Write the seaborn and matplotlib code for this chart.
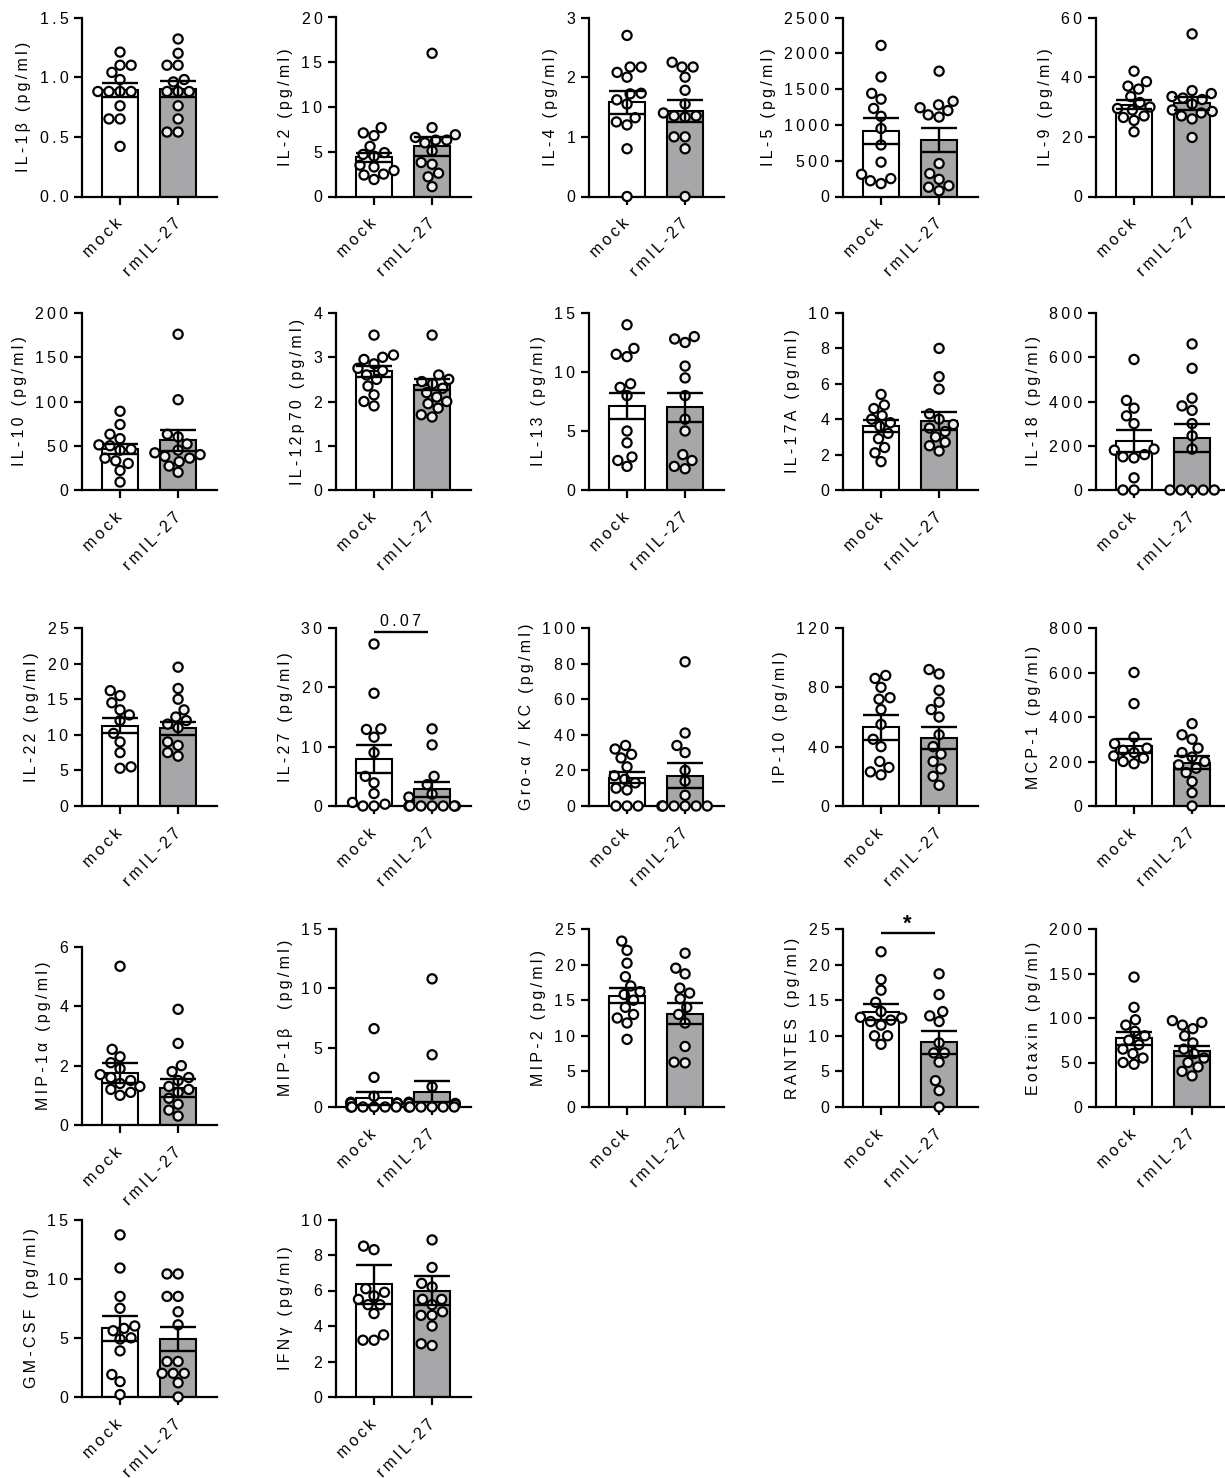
import numpy as np
import pandas as pd
import matplotlib
matplotlib.use("Agg")
import matplotlib.pyplot as plt
import seaborn as sns
from matplotlib.collections import PathCollection

# ---------------------------------------------------------------- data
GROUPS = ["mock", "rmIL-27"]

ANALYTES = ["IL-1β", "IL-2", "IL-4", "IL-5", "IL-9",
            "IL-10", "IL-12p70", "IL-13", "IL-17A", "IL-18",
            "IL-22", "IL-27", "Gro-α / KC", "IP-10", "MCP-1",
            "MIP-1α", "MIP-1β ", "MIP-2", "RANTES", "Eotaxin",
            "GM-CSF", "IFNγ"]

Y_TICKS = [[0, 0.5, 1.0, 1.5], [0, 5, 10, 15, 20], [0, 1, 2, 3],
           [0, 500, 1000, 1500, 2000, 2500], [0, 20, 40, 60],
           [0, 50, 100, 150, 200], [0, 1, 2, 3, 4], [0, 5, 10, 15],
           [0, 2, 4, 6, 8, 10], [0, 200, 400, 600, 800],
           [0, 5, 10, 15, 20, 25], [0, 10, 20, 30], [0, 20, 40, 60, 80, 100],
           [0, 40, 80, 120], [0, 200, 400, 600, 800],
           [0, 2, 4, 6], [0, 5, 10, 15], [0, 5, 10, 15, 20, 25],
           [0, 5, 10, 15, 20, 25], [0, 50, 100, 150, 200],
           [0, 5, 10, 15], [0, 2, 4, 6, 8, 10]]

MOCK_MEAN = [0.89, 4.4, 1.58, 915, 30.8, 46.5, 2.68, 7.1, 3.6, 220, 11.3, 7.9,
             16, 53, 270, 1.75, 0.75, 15.6, 13.3, 77, 5.8, 6.35]
MOCK_SEM = [0.06, 0.5, 0.19, 175, 1.4, 6.0, 0.12, 1.1, 0.35, 50, 1.1, 2.4,
            3.3, 8.5, 33, 0.33, 0.55, 1.05, 1.1, 7, 1.05, 1.1]
RM_MEAN = [0.90, 5.6, 1.43, 790, 31.2, 56, 2.38, 7.0, 3.9, 235, 10.9, 2.8,
           17, 46, 195, 1.25, 1.3, 13.1, 9.1, 63, 4.9, 6.0]
RM_SEM = [0.065, 1.05, 0.18, 168, 2.2, 12, 0.13, 1.2, 0.5, 65, 0.95, 1.3,
          7, 7.5, 30, 0.3, 0.85, 1.45, 1.6, 5.5, 1.0, 0.8]

MOCK_POINTS = [
    [1.21, 1.10, 1.10, 1.04, 0.98, 0.88, 0.88, 0.88, 0.88, 0.76, 0.65, 0.65, 0.42],
    [7.7, 7.1, 6.8, 5.6, 4.9, 4.7, 4.5, 3.5, 3.3, 2.9, 2.5, 2.4, 1.9],
    [2.70, 2.17, 2.17, 2.08, 2.00, 1.73, 1.72, 1.62, 1.55, 1.32, 1.25, 1.20, 0.80, 0.0],
    [2110, 1670, 1440, 1360, 1230, 1120, 950, 720, 480, 310, 250, 220, 180],
    [42, 38.5, 37, 36, 33.5, 31.5, 30, 29.5, 29, 27, 26.5, 25.5, 21.7],
    [89, 74, 63, 58, 51, 50, 46, 45, 36, 33, 30, 22, 9],
    [3.5, 3.05, 3.0, 2.95, 2.85, 2.75, 2.7, 2.6, 2.5, 2.35, 2.15, 2.0, 1.9],
    [14.0, 12.0, 11.5, 11.3, 9.0, 8.7, 8.0, 5.0, 4.0, 2.8, 2.5, 2.0],
    [5.4, 4.8, 4.6, 4.2, 4.0, 3.8, 3.6, 3.2, 2.9, 2.4, 2.1, 1.6],
    [590, 405, 370, 335, 300, 185, 180, 160, 150, 145, 55, 0, 0],
    [16.2, 15.5, 14.5, 13.5, 12.8, 12.0, 10.2, 9.0, 7.5, 5.5, 5.3],
    [27.3, 19.0, 13.0, 12.9, 11.6, 9.0, 5.0, 3.9, 2.1, 0.6, 0.3, 0, 0],
    [34, 32, 29, 27, 22, 17, 15, 13, 10, 9, 0, 0, 0],
    [88, 86, 80, 73, 72, 65, 55, 45, 40, 30, 26, 23, 21],
    [600, 460, 310, 280, 260, 250, 240, 225, 215, 200, 190],
    [5.35, 2.55, 2.3, 2.1, 1.9, 1.7, 1.6, 1.5, 1.4, 1.3, 1.2, 1.1, 1.0],
    [6.6, 2.5, 0.9, 0.4, 0.35, 0.3, 0.3, 0, 0, 0, 0, 0, 0],
    [23.3, 22.0, 20.2, 18.3, 17.0, 16.2, 15.8, 15.0, 14.0, 13.0, 12.5, 11.8, 9.5],
    [21.8, 17.9, 16.4, 14.7, 13.4, 12.6, 12.5, 12.2, 12.0, 11.5, 10.0, 10.0, 8.8],
    [146, 112, 98, 92, 85, 80, 75, 70, 65, 60, 55, 50, 48],
    [13.7, 10.9, 8.5, 7.5, 6.0, 5.8, 5.6, 5.0, 4.9, 3.9, 1.9, 1.3, 0.2],
    [8.5, 8.3, 6.1, 5.9, 5.7, 5.5, 5.2, 5.2, 4.7, 3.5, 3.2, 3.2],
]

RM_POINTS = [
    [1.32, 1.20, 1.10, 1.10, 0.98, 0.96, 0.88, 0.88, 0.88, 0.76, 0.65, 0.54, 0.54],
    [16.0, 7.7, 6.9, 6.6, 6.3, 6.3, 6.0, 5.1, 3.8, 3.6, 2.6, 2.2, 1.1],
    [2.25, 2.17, 2.17, 2.00, 1.78, 1.55, 1.40, 1.35, 1.35, 1.33, 1.00, 1.00, 0.80, 0.0],
    [1750, 1330, 1280, 1240, 1200, 1140, 1110, 460, 320, 240, 150, 130, 80],
    [54.5, 35.5, 34.5, 33.5, 33, 32.5, 31, 29, 28.5, 28, 27, 26, 19.8],
    [176, 102, 63, 60, 52, 45, 42, 40, 38, 36, 32, 27, 20],
    [3.5, 2.6, 2.5, 2.45, 2.4, 2.3, 2.2, 2.1, 2.0, 1.95, 1.85, 1.7, 1.65],
    [13.0, 12.8, 12.5, 10.5, 9.5, 8.0, 6.0, 5.0, 3.0, 2.5, 2.0, 1.8],
    [8.0, 6.4, 5.7, 4.3, 4.0, 3.7, 3.5, 3.3, 3.0, 2.7, 2.5, 2.2],
    [660, 550, 415, 380, 360, 300, 245, 185, 0, 0, 0, 0, 0],
    [19.5, 16.5, 15.0, 13.5, 12.5, 12.0, 11.5, 11.0, 9.0, 8.5, 7.5, 7.0],
    [13.0, 10.3, 5.0, 3.6, 2.0, 1.5, 0, 0, 0, 0, 0, 0, 0],
    [81, 41, 34, 30, 20, 14, 6, 0, 0, 0, 0, 0, 0],
    [92, 89, 78, 70, 65, 60, 48, 40, 35, 30, 25, 20, 14],
    [370, 320, 300, 260, 240, 220, 200, 185, 170, 150, 110, 60, 0],
    [3.9, 2.75, 2.0, 1.8, 1.6, 1.5, 1.3, 1.2, 1.1, 0.9, 0.7, 0.5, 0.3],
    [10.8, 4.4, 1.7, 0.4, 0.3, 0.3, 0.2, 0, 0, 0, 0, 0, 0],
    [21.6, 19.5, 18.7, 16.7, 16.0, 15.2, 14.0, 13.0, 11.8, 8.5, 6.3, 6.2],
    [18.7, 15.8, 13.4, 12.8, 12.0, 9.0, 7.6, 7.6, 6.3, 3.7, 2.3, 0],
    [97, 95, 92, 88, 80, 72, 65, 60, 55, 50, 45, 40, 35],
    [10.4, 10.4, 8.5, 8.5, 7.2, 6.1, 3.0, 3.0, 2.0, 2.0, 2.0, 1.2, 0.0],
    [8.85, 7.3, 6.4, 6.2, 5.5, 5.5, 5.2, 4.8, 4.6, 4.6, 4.0, 3.0, 2.9],
]

# significance annotations: analyte -> (label, height of bracket)
SIGNIF = {"IL-27": ("0.07", 29.3), "RANTES": ("*", 24.4)}

# ---------------------------------------------------------------- style
sns.set_theme(style="ticks")
plt.rcParams["font.family"] = ["Liberation Sans", "DejaVu Sans"]
plt.rcParams["axes.linewidth"] = 1.5

BAR_COLORS = {"mock": "#ffffff", "rmIL-27": "#a6a6aa"}
DOT_FILL = {"mock": "#ffffff", "rmIL-27": "#f0f0f0"}
FS = 11.5
THIN = "\u2009"
DOT_EDGE = 1.6       # marker outline (pt)
LAYOUT_DOT = 6.0     # marker size used to arrange the swarm (pt)
DRAW_DOT = 6.6       # marker size actually drawn (pt)


def tracked(text):
    """Wide letter spacing, as in the exported figure."""
    return THIN.join(text)


def fmt_tick(v, ticks):
    if all(float(t).is_integer() for t in ticks):
        return str(int(v))
    return f"{v:.1f}"


# ---------------------------------------------------------------- layout (pixels)
W, H = 1225, 1478
COL_LEFT = [82, 336, 589, 843, 1096]
ROW_TOP = [17.5, 313, 628, 929, 1219.5]
ROW_ZERO = [196.5, 490, 806, 1107, 1397]
AX_W = 135
SHIFT = {"MIP-1α": 18}

fig = plt.figure(figsize=(W / 100, H / 100), dpi=100)
fig.patch.set_facecolor("white")

axes = []
for i, name in enumerate(ANALYTES):
    r, c = divmod(i, 5)
    top = ROW_TOP[r] + SHIFT.get(name, 0)
    zero = ROW_ZERO[r] + SHIFT.get(name, 0)
    ax = fig.add_axes([COL_LEFT[c] / W, 1 - zero / H, AX_W / W, (zero - top) / H])
    ax.set_facecolor("white")
    axes.append(ax)

    ticks = Y_TICKS[i]
    bars = pd.DataFrame({"group": GROUPS,
                         "mean": [MOCK_MEAN[i], RM_MEAN[i]],
                         "sem": [MOCK_SEM[i], RM_SEM[i]]})
    sns.barplot(data=bars, x="group", y="mean", hue="group", order=GROUPS,
                hue_order=GROUPS, palette=BAR_COLORS, width=0.62,
                edgecolor="black", linewidth=1.5, errorbar=None,
                legend=False, ax=ax, zorder=1)

    m_pts, r_pts = MOCK_POINTS[i], RM_POINTS[i]
    pts = pd.DataFrame({"group": ["mock"] * len(m_pts) + ["rmIL-27"] * len(r_pts),
                        "value": m_pts + r_pts})
    sns.swarmplot(data=pts, x="group", y="value", hue="group", order=GROUPS,
                  hue_order=GROUPS, palette=DOT_FILL, size=LAYOUT_DOT,
                  linewidth=DOT_EDGE, edgecolor="black", legend=False,
                  warn_thresh=1.0, ax=ax, zorder=3, clip_on=False)

    ax.errorbar([0, 1], bars["mean"], yerr=bars["sem"], fmt="none",
                ecolor="black", elinewidth=1.7, capsize=13, capthick=1.7,
                zorder=4, clip_on=False)

    ax.set_xlim(-0.655, 1.67)
    ax.set_ylim(0, ticks[-1])
    sns.despine(ax=ax)
    for s in ("left", "bottom"):
        ax.spines[s].set_linewidth(1.6)
        ax.spines[s].set_color("black")
        ax.spines[s].set_zorder(2.5)

    ax.set_yticks(ticks)
    ax.set_yticklabels([tracked(fmt_tick(t, ticks)) for t in ticks])
    ax.set_xticks([0, 1])
    ax.set_xticklabels([tracked(g) for g in GROUPS], rotation=45, ha="right",
                       va="center", rotation_mode="anchor")
    ax.tick_params(axis="y", length=5.8, width=1.6, pad=4, labelsize=FS,
                   colors="black", labelcolor="black")
    ax.tick_params(axis="x", length=5.8, width=1.6, pad=12, labelsize=FS,
                   colors="black", labelcolor="black")
    ax.set_xlabel("")
    ax.set_ylabel(tracked(name) + THIN + " " + THIN + tracked("(pg/ml)"),
                  fontsize=FS, labelpad=6, color="black")

    if name in SIGNIF:
        label, yb = SIGNIF[name]
        ax.plot([0, 0.93], [yb, yb], color="black", lw=1.7, clip_on=False,
                zorder=4, solid_capstyle="butt")
        star = label == "*"
        ax.text(0.46, yb + ticks[-1] * (-0.01 if star else 0.015), tracked(label),
                ha="center", va="bottom", fontsize=16 if star else FS,
                fontweight="bold" if star else "normal", color="black",
                clip_on=False)

# arrange the swarms at the final axes geometry, then fix them and enlarge the dots
fig.canvas.draw()
for ax in axes:
    for coll in ax.collections:
        if isinstance(coll, PathCollection) and "draw" in coll.__dict__:
            del coll.draw
            coll.set_sizes([DRAW_DOT ** 2])

fig.savefig("out.png", dpi=100, facecolor="white")
